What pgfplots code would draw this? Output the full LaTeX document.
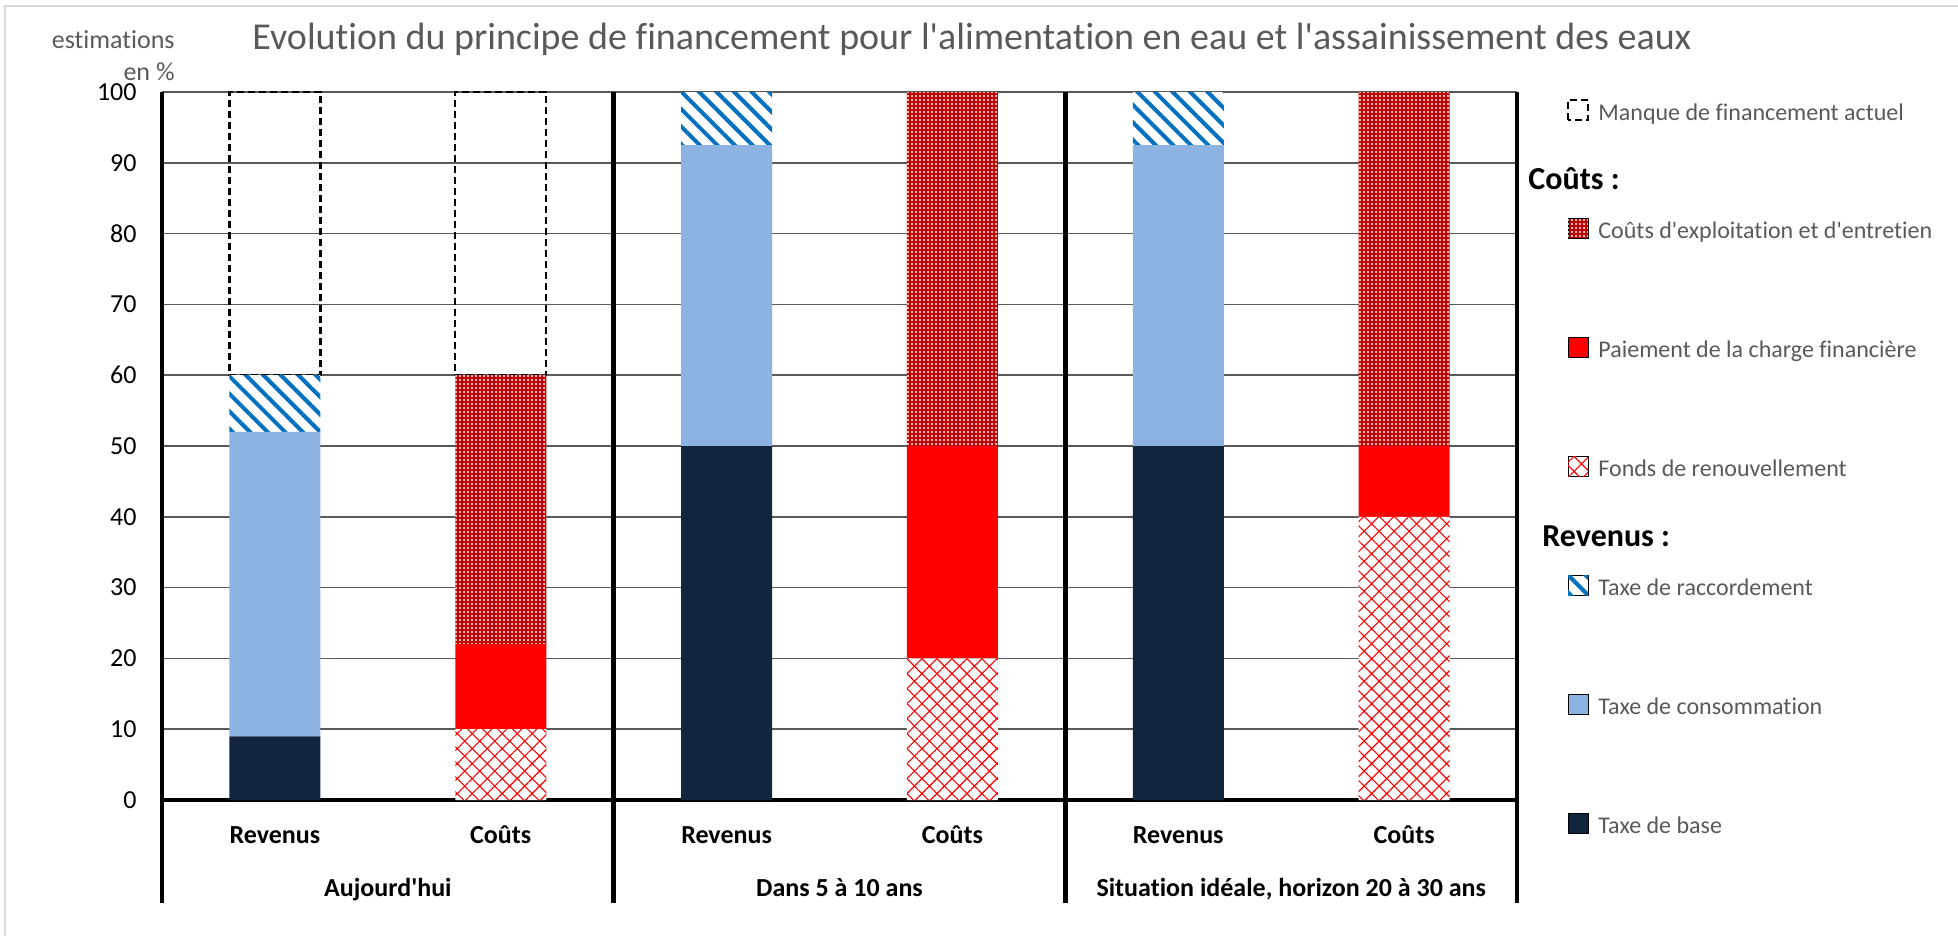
\documentclass[border=0pt]{standalone}
\usepackage{pgfplots}
\usepackage{pgfplotstable}
\pgfplotsset{compat=1.18}
\usepackage{fontspec}
\setmainfont{Carlito}[Ligatures={TeXOff,NoCommon}]
\usetikzlibrary{patterns.meta}
\definecolor{navy}{HTML}{11253F}
\definecolor{consblue}{HTML}{8DB3E2}
\definecolor{raccblue}{HTML}{0070C0}
\definecolor{exred}{HTML}{C00000}
\definecolor{txtgray}{HTML}{595959}
\definecolor{gridgray}{HTML}{595959}
\definecolor{framegray}{HTML}{D9D9D9}

\pgfplotstableread{
x base cons racc fonds paie expl
0 9  43   8   0  0  0
1 0  0    0   10 12 38
2 50 42.5 7.5 0  0  0
3 0  0    0   20 30 50
4 50 42.5 7.5 0  0  0
5 0  0    0   40 10 50
}\datatab

\pgfplotsset{
  myleg/.style={legend image code/.code={\draw[##1] (0pt,0pt) rectangle (10pt,10pt);}},
  sbase/.style={myleg, fill=navy, draw=none},
  scons/.style={myleg, fill=consblue, draw=none},
  sracc/.style={myleg, fill=white, draw=none, postaction={pattern={Lines[angle=-45,distance=6.2pt,line width=2pt]}, pattern color=raccblue}},
  sfonds/.style={myleg, fill=white, draw=none, postaction={pattern={Hatch[angle=45,distance=5.3pt,line width=0.55pt]}, pattern color=red}},
  spaie/.style={myleg, fill=red, draw=none},
  sexpl/.style={myleg, fill=exred, draw=none, postaction={pattern={Dots[distance=2pt,radius=0.55pt]}, pattern color=white}},
  smanque/.style={myleg, fill=none, draw=black, line width=1.2pt, dash pattern=on 3.5pt off 2pt},
}

\begin{document}
\begin{tikzpicture}
\useasboundingbox (0pt,0pt) rectangle (979pt,-468pt);
\draw[framegray, line width=1pt] (2.5pt,-480pt) -- (2.5pt,-3pt) -- (990pt,-3pt);
\node[anchor=base, font=\fontsize{19}{23}\selectfont, text=txtgray, inner sep=0pt] at (486pt,-25pt)
  {Evolution du principe de financement pour l'alimentation en eau et l'assainissement des eaux};
\node[anchor=base east, font=\fontsize{13}{15}\selectfont, text=txtgray, inner sep=0pt] at (87.5pt,-24.5pt) {estimations};
\node[anchor=base east, font=\fontsize{13}{15}\selectfont, text=txtgray, inner sep=0pt] at (87.5pt,-40.5pt) {en \%};
\begin{axis}[
  at={(81pt,-400pt)}, anchor=south west,
  width=677.5pt, height=354pt, scale only axis,
  ybar stacked, bar width=0.403,
  xmin=-0.5, xmax=5.5, ymin=0, ymax=100,
  enlargelimits=false,
  xtick={0,...,5},
  xticklabels={Revenus,Coûts,Revenus,Coûts,Revenus,Coûts},
  xticklabel style={anchor=base, yshift=-21.5pt, font=\fontsize{13}{15}\selectfont\bfseries},
  ytick={0,10,...,100},
  yticklabel style={anchor=east, inner sep=0pt, xshift=-12.5pt, font=\fontsize{13}{15}\selectfont},
  /pgf/number format/assume math mode=true,
  major tick length=0pt,
  ymajorgrids, grid style={gridgray, line width=0.85pt},
  axis line style={draw=none},
  clip=false,
  reverse legend,
  legend style={at={(1,1)}, anchor=north west, xshift=25pt, yshift=-3.5pt,
    draw=none, fill=none, inner sep=0pt, outer sep=0pt, row sep=0pt, column sep=4.5pt,
    font=\fontsize{12}{14}\selectfont,
    nodes={inner sep=0pt, text depth=4pt, text=txtgray}, cells={anchor=base west}},
]
\addplot[sbase] table[x=x,y=base] {\datatab};
\addlegendentry{\rule{0pt}{55.5pt}Taxe de base}
\addplot[scons] table[x=x,y=cons] {\datatab};
\addlegendentry{\rule{0pt}{55.5pt}Taxe de consommation}
\addplot[sracc] table[x=x,y=racc] {\datatab};
\addlegendentry{\rule{0pt}{20.5pt}Taxe de raccordement}
\addlegendimage{empty legend}
\addlegendentry{\rule{0pt}{31pt}\hspace*{-28pt}\textcolor{black}{\fontsize{16}{19}\selectfont\bfseries Revenus :}}
\addplot[sfonds] table[x=x,y=fonds] {\datatab};
\addlegendentry{\rule{0pt}{55.5pt}Fonds de renouvellement}
\addplot[spaie] table[x=x,y=paie] {\datatab};
\addlegendentry{\rule{0pt}{55.5pt}Paiement de la charge financière}
\addplot[sexpl] table[x=x,y=expl] {\datatab};
\addlegendentry{\rule{0pt}{20.5pt}Coûts d'exploitation et d'entretien}
\addlegendimage{empty legend}
\addlegendentry{\rule{0pt}{30.5pt}\hspace*{-35pt}\textcolor{black}{\fontsize{16}{19}\selectfont\bfseries Coûts :}}
\addplot[smanque] coordinates {(0,40) (1,40)};
\addlegendentry{\rule{0pt}{10pt}Manque de financement actuel}

\draw[black, line width=2.3pt] (axis cs:-0.5,0) -- (axis cs:5.5,0);
\draw[black, line width=2.3pt] (axis cs:-0.5,100) -- ([yshift=-51.5pt]axis cs:-0.5,0);
\draw[black, line width=2.3pt] (axis cs:1.5,100) -- ([yshift=-51.5pt]axis cs:1.5,0);
\draw[black, line width=2.3pt] (axis cs:3.5,100) -- ([yshift=-51.5pt]axis cs:3.5,0);
\draw[black, line width=2.3pt] (axis cs:5.5,100) -- ([yshift=-51.5pt]axis cs:5.5,0);
\node[anchor=base, font=\fontsize{13}{15}\selectfont\bfseries] at ([yshift=-48pt]axis cs:0.5,0) {Aujourd'hui};
\node[anchor=base, font=\fontsize{13}{15}\selectfont\bfseries] at ([yshift=-48pt]axis cs:2.5,0) {Dans 5 à 10 ans};
\node[anchor=base, font=\fontsize{13}{15}\selectfont\bfseries] at ([yshift=-48pt]axis cs:4.5,0) {Situation idéale, horizon 20 à 30 ans};
\end{axis}
\end{tikzpicture}
\end{document}
